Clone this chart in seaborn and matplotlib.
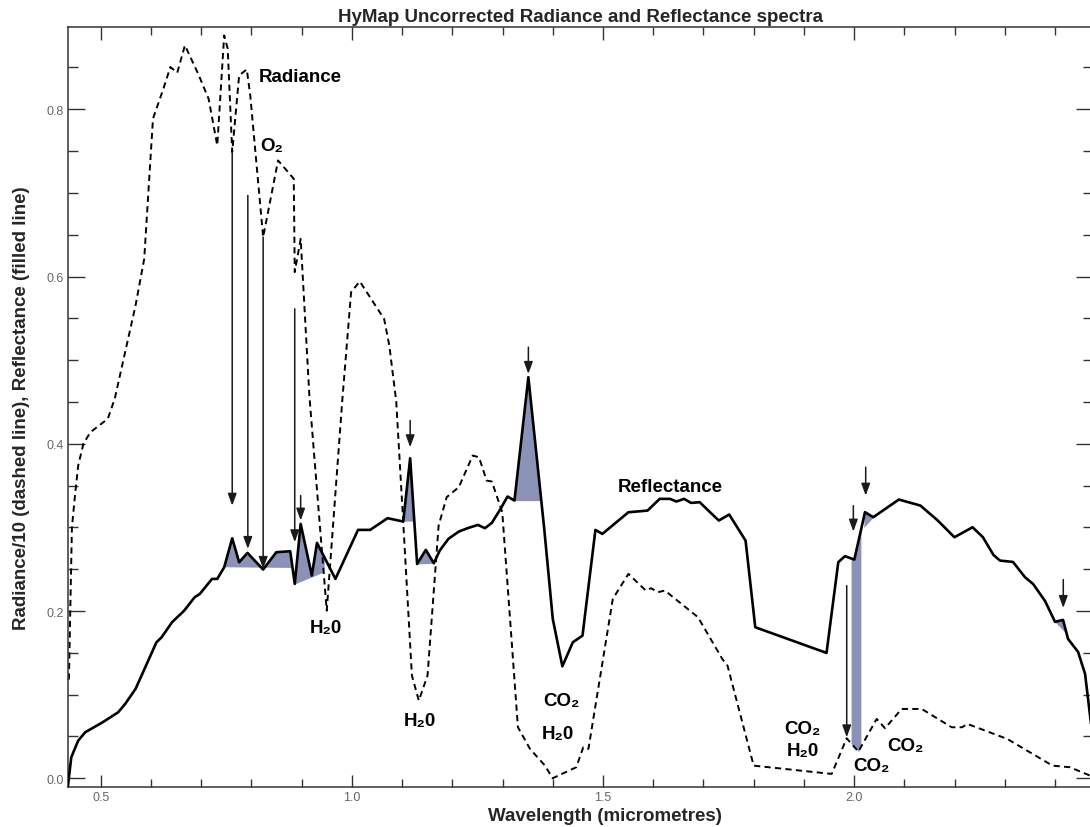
import numpy as np
import pandas as pd
import matplotlib
matplotlib.use("Agg")
import matplotlib.pyplot as plt
from matplotlib.ticker import MultipleLocator, FixedLocator
import seaborn as sns

# ---------------- data ----------------
refl_wl = [0.4343, 0.4412, 0.4550, 0.4689, 0.5035, 0.5346, 0.5485, 0.5692, 0.5900, 0.6108,
           0.6211, 0.6419, 0.6661, 0.6869, 0.6973, 0.7215, 0.7319, 0.7457, 0.7617, 0.7755,
           0.7921, 0.8233, 0.8357, 0.8495, 0.8772, 0.8862, 0.8980, 0.9202, 0.9305, 0.9672,
           1.0122, 1.0364, 1.0710, 1.1022, 1.1160, 1.1299, 1.1472, 1.1631, 1.1749, 1.1922,
           1.2129, 1.2302, 1.2510, 1.2648, 1.2787, 1.2960, 1.3098, 1.3237, 1.3514, 1.3830,
           1.4000, 1.4191, 1.4399, 1.4592, 1.4849, 1.4987, 1.5506, 1.5887, 1.6129, 1.6337,
           1.6461, 1.6614, 1.6752, 1.6925, 1.7098, 1.7306, 1.7513, 1.7839, 1.8032, 1.9451,
           1.9685, 1.9818, 2.0004, 2.0217, 2.0382, 2.0891, 2.1320, 2.1666, 2.1998, 2.2358,
           2.2566, 2.2774, 2.2905, 2.3164, 2.3403, 2.3563, 2.3802, 2.4001, 2.4161, 2.4260,
           2.4460, 2.4599, 2.4699, 2.4757]
reflectance = [-0.0108, 0.0251, 0.0450, 0.0550, 0.0669, 0.0789, 0.0889, 0.1068, 0.1347, 0.1626,
               0.1686, 0.1866, 0.2005, 0.2165, 0.2205, 0.2384, 0.2384, 0.2523, 0.2870, 0.2583,
               0.2695, 0.2496, 0.2595, 0.2703, 0.2715, 0.2324, 0.3042, 0.2424, 0.2815, 0.2384,
               0.2970, 0.2970, 0.3110, 0.3070, 0.3827, 0.2563, 0.2731, 0.2571, 0.2723, 0.2863,
               0.2950, 0.2990, 0.3030, 0.2990, 0.3054, 0.3221, 0.3369, 0.3321, 0.4796, 0.2982,
               0.1905, 0.1339, 0.1626, 0.1706, 0.2970, 0.2922, 0.3181, 0.3201, 0.3341, 0.3341,
               0.3309, 0.3341, 0.3293, 0.3301, 0.3201, 0.3082, 0.3154, 0.2842, 0.1806, 0.1499,
               0.2584, 0.2656, 0.2615, 0.3182, 0.3122, 0.3333, 0.3261, 0.3082, 0.2882, 0.3002,
               0.2882, 0.2671, 0.2603, 0.2587, 0.2404, 0.2324, 0.2120, 0.1870, 0.1894, 0.1666,
               0.1511, 0.1248, 0.0746, 0.0450]

rad_wl = [0.4365, 0.4425, 0.4486, 0.4550, 0.4654, 0.4793, 0.5139, 0.5277, 0.5485, 0.5692,
          0.5865, 0.6039, 0.6246, 0.6385, 0.6523, 0.6675, 0.6938, 0.7146, 0.7319, 0.7457,
          0.7527, 0.7617, 0.7755, 0.7907, 0.7976, 0.8233, 0.8530, 0.8842, 0.8862, 0.8980,
          0.9153, 0.9499, 0.9811, 0.9984, 1.0157, 1.0641, 1.0745, 1.0883, 1.1022, 1.1195,
          1.1333, 1.1506, 1.1727, 1.1887, 1.2129, 1.2406, 1.2531, 1.2683, 1.2787, 1.2994,
          1.3306, 1.3548, 1.3845, 1.3997, 1.4468, 1.4607, 1.4710, 1.5195, 1.5506, 1.5852,
          1.5956, 1.6095, 1.6233, 1.6891, 1.7375, 1.7479, 1.8000, 1.9554, 1.9852, 2.0085,
          2.0450, 2.0616, 2.0947, 2.1346, 2.1943, 2.2151, 2.2255, 2.3051, 2.3950, 2.4296,
          2.4698, 2.4757]
radiance_10 = [0.118, 0.300, 0.338, 0.374, 0.400, 0.4138, 0.4298, 0.4537, 0.5096, 0.5654,
               0.6212, 0.7887, 0.8245, 0.8505, 0.8437, 0.8764, 0.8425, 0.8126, 0.7568, 0.8883,
               0.8724, 0.7488, 0.8405, 0.8477, 0.8166, 0.6471, 0.7388, 0.7169, 0.6053, 0.6451,
               0.4577, 0.2005, 0.4537, 0.5813, 0.5941, 0.5494, 0.5175, 0.4505, 0.3062, 0.1228,
               0.0929, 0.1228, 0.3022, 0.3361, 0.3481, 0.3859, 0.3839, 0.3560, 0.3548, 0.3182,
               0.0610, 0.0350, 0.0151, 0.0000, 0.0132, 0.0371, 0.0351, 0.2145, 0.2444, 0.2245,
               0.2273, 0.2225, 0.2245, 0.1926, 0.1427, 0.1347, 0.0151, 0.0052, 0.0478, 0.0319,
               0.0710, 0.0598, 0.0829, 0.0829, 0.0610, 0.0610, 0.0650, 0.0470, 0.0151, 0.0132,
               0.0032, 0.0000]

# shaded absorption features: (start, end, baseline at start, baseline at end)
shade_start = [0.7457, 0.8862, 1.1022, 1.1299, 1.3237, 2.0195, 2.4001]
shade_end = [0.8790, 0.9450, 1.1299, 1.1631, 1.4000, 2.0382, 2.4240]
shade_base0 = [0.2523, 0.2324, 0.3075, 0.2563, 0.3320, 0.3000, 0.1870]
shade_base1 = [0.2515, 0.2470, 0.3075, 0.2571, 0.3320, 0.3122, 0.1720]
band_start, band_end = 1.9940, 2.0135   # band between radiance and reflectance

# arrows: x, tail y, tip y
arrow_x = [0.7617, 0.7928, 0.8233, 0.8862, 0.8980, 1.1160, 1.3514, 1.9985, 2.0231, 1.9853, 2.4165]
arrow_y0 = [0.7488, 0.6970, 0.6471, 0.5614, 0.3381, 0.4278, 0.5155, 0.3260, 0.3720, 0.2304, 0.2376]
arrow_y1 = [0.3260, 0.2743, 0.2504, 0.2823, 0.3082, 0.3959, 0.4836, 0.2950, 0.3380, 0.0490, 0.2037]

# text labels
label_text = ["Radiance", "O\u2082", "H\u20820", "H\u20820", "CO\u2082", "H\u20820",
              "CO\u2082", "H\u20820", "CO\u2082", "CO\u2082", "Reflectance"]
label_x = [0.898, 0.841, 0.948, 1.135, 1.418, 1.410, 1.898, 1.898, 2.034, 2.102, 1.634]
label_y = [0.8397, 0.7568, 0.1806, 0.0689, 0.0929, 0.0530, 0.0590, 0.0331, 0.0150, 0.0391, 0.3492]

x_ticks = [0.5, 1.0, 1.5, 2.0]
y_ticks = [0.0, 0.2, 0.4, 0.6, 0.8]

# ---------------- plotting ----------------
sns.set_style("ticks")
plt.rcParams["font.family"] = ["Liberation Sans", "DejaVu Sans"]

fig = plt.figure(figsize=(10.9, 8.28), dpi=100)
ax = fig.add_axes([68 / 1090, 1 - 788.3 / 828, (1093 - 68) / 1090, (788.3 - 28.3) / 828])

fill_color = "#8a93b7"
rx = np.array(refl_wl)
ry = np.array(reflectance)
for s, e, b0, b1 in zip(shade_start, shade_end, shade_base0, shade_base1):
    xs = np.linspace(s, e, 200)
    top = np.interp(xs, rx, ry)
    base = np.interp(xs, [s, e], [b0, b1])
    ax.fill_between(xs, base, top, where=top >= base, interpolate=True,
                    color=fill_color, linewidth=0, zorder=1)
xs = np.linspace(band_start, band_end, 100)
ax.fill_between(xs, np.interp(xs, rad_wl, radiance_10), np.interp(xs, rx, ry),
                color=fill_color, linewidth=0, zorder=1)

rad_df = pd.DataFrame({"wl": rad_wl, "val": radiance_10})
ref_df = pd.DataFrame({"wl": refl_wl, "val": reflectance})
sns.lineplot(data=rad_df, x="wl", y="val", ax=ax, color="black", linewidth=1.4,
             sort=False, estimator=None, zorder=2)
ax.lines[-1].set_dashes([3.2, 2.2])
sns.lineplot(data=ref_df, x="wl", y="val", ax=ax, color="black", linewidth=1.9,
             sort=False, estimator=None, zorder=3)

for x, y0, y1 in zip(arrow_x, arrow_y0, arrow_y1):
    ax.annotate("", xy=(x, y1), xytext=(x, y0),
                arrowprops=dict(arrowstyle="-|>,head_length=0.6,head_width=0.22",
                                mutation_scale=12, color="#1a1a1a", lw=1.1,
                                shrinkA=0, shrinkB=0), zorder=4)

for t, x, y in zip(label_text, label_x, label_y):
    ax.text(x, y, t, ha="center", va="center", fontsize=13.5, fontweight="bold",
            color="black", zorder=5)

ax.set_xlim(0.4347, 2.4757)
ax.set_ylim(-0.0108, 0.898)
ax.xaxis.set_major_locator(FixedLocator(x_ticks))
ax.yaxis.set_major_locator(FixedLocator(y_ticks))
ax.set_xticklabels([f"{v:.1f}" for v in x_ticks])
ax.set_yticklabels([f"{v:.1f}" for v in y_ticks])
ax.xaxis.set_minor_locator(MultipleLocator(0.1))
ax.yaxis.set_minor_locator(MultipleLocator(0.05))
ax.tick_params(which="both", direction="in", top=True, right=True,
               labelsize=9, labelcolor="#666666", color="#333333", width=1.0)
ax.tick_params(axis="x", which="major", length=9, pad=3)
ax.tick_params(axis="x", which="minor", length=5.5)
ax.tick_params(axis="y", which="major", length=12, pad=3)
ax.tick_params(axis="y", which="minor", length=7)
for sp in ax.spines.values():
    sp.set_color("#333333")
    sp.set_linewidth(1.1)

ax.set_xlabel("Wavelength (micrometres)", fontsize=13.5, fontweight="bold", va="center")
ax.xaxis.set_label_coords(0.524, -0.0365)
ax.set_ylabel("Radiance/10 (dashed line), Reflectance (filled line)", fontsize=13.5,
              fontweight="bold", va="center")
ax.yaxis.set_label_coords(-0.0454, 0.5)

fig.text(581 / 1090, 1 - 17 / 828, "HyMap Uncorrected Radiance and Reflectance spectra",
         ha="center", va="center", fontsize=13.5, fontweight="bold")

fig.savefig("out.png", dpi=100)
